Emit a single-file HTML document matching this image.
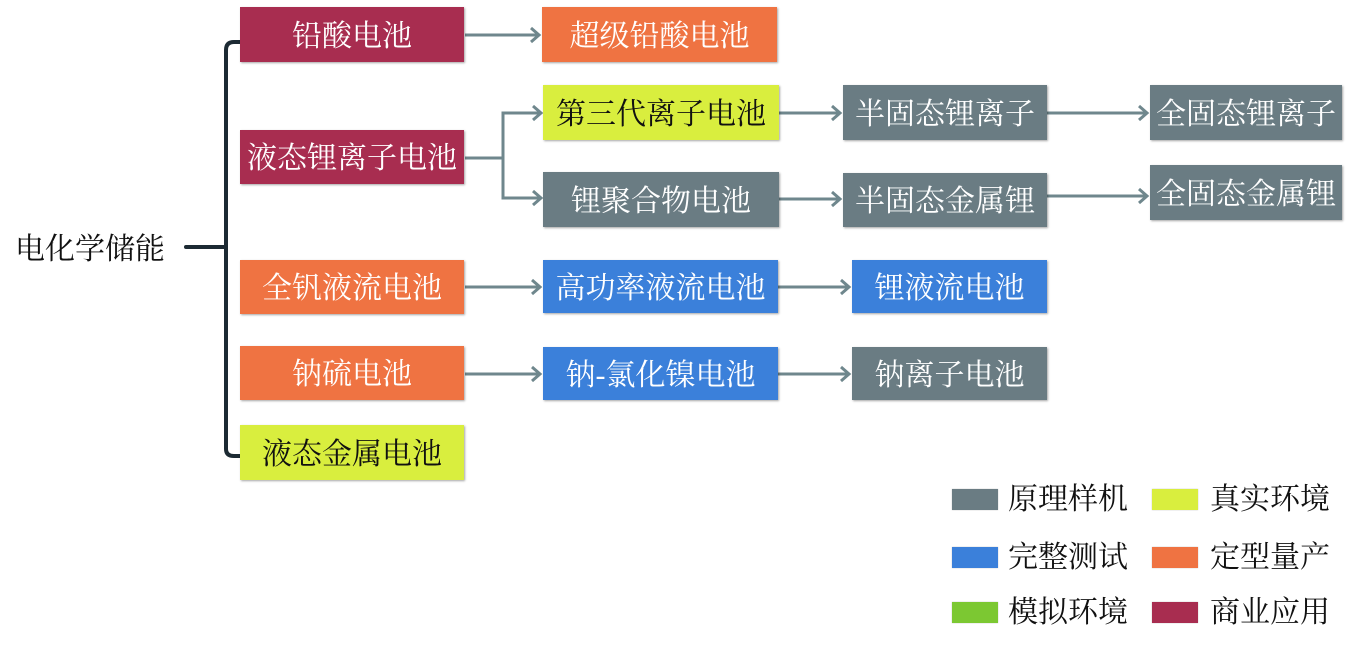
<!DOCTYPE html>
<html>
<head>
<meta charset="utf-8">
<style>
  html,body{margin:0;padding:0;background:#fff;}
  #c{position:relative;width:1350px;height:645px;overflow:hidden;background:#fff;
     font-family:"Liberation Serif","Noto Serif CJK SC",serif;}
  .b{position:absolute;display:flex;align-items:center;justify-content:center;box-sizing:border-box;padding-top:4px;
     color:#fff;font-size:30px;line-height:1;white-space:nowrap;
     box-shadow:1px 1px 2px rgba(0,0,0,0.35);}
  .cr{background:#a82d50;}
  .or{background:#ef7342;}
  .yg{background:#d9ee3e;color:#111;}
  .gy{background:#6a7c83;}
  .bl{background:#3b80da;}
  .t{position:absolute;font-size:30px;line-height:1;color:#111;white-space:nowrap;}
  .sw{position:absolute;width:46px;height:21px;box-shadow:0 0 1px rgba(0,0,0,0.3);}
  svg{position:absolute;left:0;top:0;}
</style>
</head>
<body>
<div id="c">
<svg width="1350" height="645" viewBox="0 0 1350 645">
  <g fill="none" stroke="#1c2a33" stroke-width="4" stroke-linecap="round">
    <path d="M240 42 H234 Q226 42 226 50 V449 Q226 456 234 456 H240"/>
    <path d="M186 247 H226"/>
  </g>
  <g fill="none" stroke="#6f878d" stroke-width="3" stroke-linejoin="miter">
    <path d="M465 35 H539"/><path d="M531 28 L539 35 L531 42"/>
    <path d="M465 158 H503"/>
    <path d="M541 113 H503 V198 H541"/>
    <path d="M533 106 L541 113 L533 120"/>
    <path d="M533 191 L541 198 L533 205"/>
    <path d="M779 113 H840"/><path d="M832 106 L840 113 L832 120"/>
    <path d="M779 199 H840"/><path d="M832 192 L840 199 L832 206"/>
    <path d="M1047 113 H1147"/><path d="M1139 106 L1147 113 L1139 120"/>
    <path d="M1047 196 H1147"/><path d="M1139 189 L1147 196 L1139 203"/>
    <path d="M465 287 H540"/><path d="M532 280 L540 287 L532 294"/>
    <path d="M778 287 H849"/><path d="M841 280 L849 287 L841 294"/>
    <path d="M465 374 H540"/><path d="M532 367 L540 374 L532 381"/>
    <path d="M778 374 H849"/><path d="M841 367 L849 374 L841 381"/>
  </g>
</svg>

<div class="t" style="left:15px;top:235px;">电化学储能</div>

<div class="b cr" style="left:240px;top:7px;width:224px;height:55px;">铅酸电池</div>
<div class="b or" style="left:542px;top:7px;width:235px;height:55px;">超级铅酸电池</div>

<div class="b cr" style="left:240px;top:130px;width:224px;height:54px;">液态锂离子电池</div>
<div class="b yg" style="left:543px;top:85px;width:236px;height:55px;">第三代离子电池</div>
<div class="b gy" style="left:543px;top:172px;width:236px;height:55px;">锂聚合物电池</div>
<div class="b gy" style="left:843px;top:85px;width:204px;height:55px;">半固态锂离子</div>
<div class="b gy" style="left:843px;top:173px;width:204px;height:54px;">半固态金属锂</div>
<div class="b gy" style="left:1150px;top:85px;width:192px;height:55px;">全固态锂离子</div>
<div class="b gy" style="left:1150px;top:165px;width:192px;height:55px;">全固态金属锂</div>

<div class="b or" style="left:240px;top:260px;width:224px;height:54px;">全钒液流电池</div>
<div class="b bl" style="left:543px;top:260px;width:235px;height:53px;">高功率液流电池</div>
<div class="b bl" style="left:852px;top:260px;width:195px;height:53px;">锂液流电池</div>

<div class="b or" style="left:240px;top:346px;width:224px;height:54px;">钠硫电池</div>
<div class="b bl" style="left:543px;top:347px;width:235px;height:53px;">钠-氯化镍电池</div>
<div class="b gy" style="left:852px;top:347px;width:195px;height:53px;">钠离子电池</div>

<div class="b yg" style="left:240px;top:425px;width:224px;height:55px;">液态金属电池</div>

<div class="sw" style="left:952px;top:489px;background:#6a7c83;"></div>
<div class="t" style="left:1008px;top:485px;">原理样机</div>
<div class="sw" style="left:1152px;top:489px;background:#d9ee3e;"></div>
<div class="t" style="left:1210px;top:485px;">真实环境</div>

<div class="sw" style="left:952px;top:547px;background:#3b80da;"></div>
<div class="t" style="left:1008px;top:543px;">完整测试</div>
<div class="sw" style="left:1152px;top:547px;background:#ef7342;"></div>
<div class="t" style="left:1210px;top:543px;">定型量产</div>

<div class="sw" style="left:952px;top:602px;background:#7cc832;"></div>
<div class="t" style="left:1008px;top:598px;">模拟环境</div>
<div class="sw" style="left:1152px;top:602px;background:#a82d50;"></div>
<div class="t" style="left:1210px;top:598px;">商业应用</div>
</div>
</body>
</html>
